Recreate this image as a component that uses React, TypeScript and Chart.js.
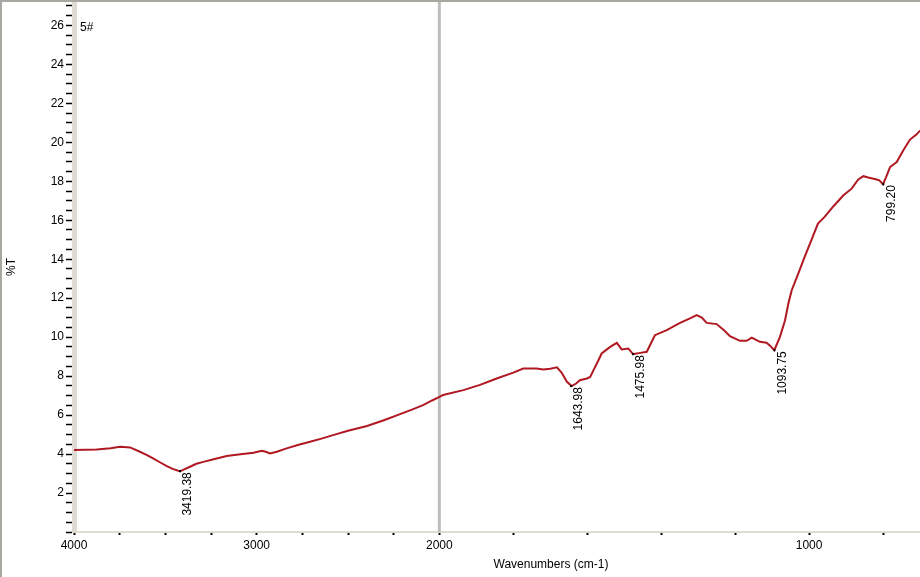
import React, { useEffect, useRef } from 'react';
import { Chart, registerables, LinearScale } from 'chart.js';

Chart.register(...registerables);

// ---- data ----
const wavenumbers = [
  4000, 3940, 3876, 3800, 3748, 3693, 3639, 3600, 3567, 3530, 3492, 3460, 3429, 3419, 3400, 3365,
  3330, 3292, 3230, 3164, 3100, 3018, 2972, 2950, 2927, 2890, 2836, 2770, 2708, 2650, 2582, 2500,
  2396, 2300, 2215, 2150, 2089, 2040, 2002, 1990, 1935, 1890, 1845, 1800, 1773, 1737, 1719, 1700,
  1682, 1669, 1655, 1642, 1630, 1620, 1601, 1592, 1583, 1570, 1561, 1538, 1520, 1507, 1489, 1476,
  1460, 1439, 1417, 1385, 1349, 1322, 1304, 1290, 1277, 1250, 1230, 1214, 1187, 1169, 1155, 1133,
  1115, 1105, 1094, 1079, 1065, 1056, 1047, 1029, 1012, 994, 976, 958, 934, 907, 885, 867,
  853, 840, 817, 810, 800, 792, 781, 763, 745, 727, 709, 700,
];
const transmittance = [
  4.21, 4.22, 4.24, 4.30, 4.37, 4.34, 4.12, 3.95, 3.78, 3.58, 3.38, 3.24, 3.14, 3.12, 3.20, 3.35,
  3.50, 3.60, 3.75, 3.90, 3.98, 4.07, 4.17, 4.12, 4.03, 4.12, 4.29, 4.48, 4.63, 4.78, 4.97, 5.20,
  5.44, 5.75, 6.05, 6.28, 6.51, 6.75, 6.92, 7.03, 7.28, 7.55, 7.88, 8.18, 8.39, 8.39, 8.34, 8.38,
  8.45, 8.17, 7.71, 7.49, 7.62, 7.79, 7.88, 7.96, 8.31, 8.80, 9.16, 9.50, 9.71, 9.37, 9.42, 9.13,
  9.18, 9.25, 10.10, 10.36, 10.73, 10.96, 11.13, 11.00, 10.73, 10.67, 10.35, 10.05, 9.81, 9.81, 9.98, 9.76,
  9.71, 9.55, 9.33, 10.00, 10.87, 11.73, 12.41, 13.27, 14.12, 14.97, 15.83, 16.17, 16.72, 17.28, 17.62, 18.09,
  18.26, 18.19, 18.09, 18.05, 17.85, 18.20, 18.73, 18.99, 19.59, 20.14, 20.41, 20.60,
];
const peakWavenumbers = [3419.38, 1643.98, 1475.98, 1093.75, 799.2];
const peakTransmittance = [3.12, 7.49, 9.13, 9.33, 17.85];
const xTickLabels = [4000, 3000, 2000, 1000];
const yTickLabels = [2, 4, 6, 8, 10, 12, 14, 16, 18, 20, 22, 24, 26];
const sampleLabel = '5#';
const xTitle = 'Wavenumbers (cm-1)';
const yTitle = '%T';

const X_MIN = 700;
const X_MAX = 4000;
const BREAK = 2000;
const EXPAND = 2.024;
const FONT = '"Liberation Sans", Arial, sans-serif';

// Linear axis with a 2x expansion below 2000 cm-1 (as in FTIR software)
class BrokenLinearScale extends LinearScale {
  static id = 'brokenLinear';
  static defaults = {};
  _dist(v: number) {
    const max = this.max;
    return v >= BREAK ? max - v : max - BREAK + (BREAK - v) * EXPAND;
  }
  getPixelForValue(value: number) {
    const total = this._dist(this.min);
    return this.left + (this._dist(value) / total) * this.width;
  }
  getValueForPixel(pixel: number) {
    const total = this._dist(this.min);
    const d = ((pixel - this.left) / this.width) * total;
    const leftW = this.max - BREAK;
    return d <= leftW ? this.max - d : BREAK - (d - leftW) / EXPAND;
  }
  buildTicks() {
    const ticks: { value: number }[] = [];
    for (let v = this.max; v > BREAK; v -= 250) ticks.push({ value: v });
    for (let v = BREAK; v >= this.min; v -= 200) ticks.push({ value: v });
    return ticks;
  }
}
Chart.register(BrokenLinearScale as any);

const decorations = {
  id: 'decorations',
  beforeDatasetsDraw(chart: any) {
    const { ctx, scales, chartArea } = chart;
    const x = scales.x.getPixelForValue(BREAK);
    ctx.save();
    ctx.strokeStyle = '#bdbdbd';
    ctx.lineWidth = 3;
    ctx.beginPath();
    ctx.moveTo(x, chartArea.top);
    ctx.lineTo(x, chartArea.bottom);
    ctx.stroke();
    ctx.restore();
  },
  afterDraw(chart: any) {
    const { ctx, scales, chartArea } = chart;
    ctx.save();
    // frame
    ctx.strokeStyle = '#a8a8a2';
    ctx.lineWidth = 2;
    ctx.beginPath();
    ctx.moveTo(1, chart.height);
    ctx.lineTo(1, 1);
    ctx.lineTo(chart.width, 1);
    ctx.stroke();

    ctx.fillStyle = '#000';
    ctx.font = `12px ${FONT}`;
    // peak labels
    peakWavenumbers.forEach((w, i) => {
      const px = scales.x.getPixelForValue(w);
      const py = scales.y.getPixelForValue(peakTransmittance[i]);
      ctx.fillRect(px - 1, py - 1, 2, 2);
      ctx.save();
      ctx.translate(px + 8, py + 1);
      ctx.rotate(-Math.PI / 2);
      ctx.textAlign = 'right';
      ctx.textBaseline = 'middle';
      ctx.fillText(w.toFixed(2), 0, 0);
      ctx.restore();
    });
    // sample label
    ctx.textAlign = 'left';
    ctx.textBaseline = 'middle';
    ctx.fillText(sampleLabel, chartArea.left + 6, 28);
    // x title
    ctx.textAlign = 'center';
    ctx.fillText(xTitle, 551, 565);
    // y title
    ctx.save();
    ctx.translate(12, 267);
    ctx.rotate(-Math.PI / 2);
    ctx.fillText(yTitle, 0, 0);
    ctx.restore();
    ctx.restore();
  },
};

export default function App() {
  const ref = useRef<HTMLCanvasElement>(null);
  useEffect(() => {
    if (!ref.current) return;
    const chart = new Chart(ref.current, {
      type: 'line',
      data: {
        datasets: [
          {
            data: wavenumbers.map((w, i) => ({ x: w, y: transmittance[i] })),
            borderColor: 'rgb(176, 24, 34)',
            borderWidth: 2,
            pointRadius: 0,
            tension: 0,
            fill: false,
          },
        ],
      },
      options: {
        animation: false,
        responsive: false,
        maintainAspectRatio: false,
        layout: { padding: { top: 2, right: 0, left: 0, bottom: 0 } },
        plugins: { legend: { display: false }, tooltip: { enabled: false } },
        scales: {
          x: {
            type: 'brokenLinear' as any,
            min: X_MIN,
            max: X_MAX,
            position: 'bottom',
            border: { color: '#dedbd2', width: 2 },
            grid: { drawOnChartArea: false, tickLength: 3, tickColor: '#000', tickWidth: 2 },
            ticks: {
              autoSkip: false,
              maxRotation: 0,
              padding: 3,
              color: '#000',
              font: { family: FONT, size: 12 },
              callback: (v: any) => (xTickLabels.includes(Number(v)) ? String(v) : ''),
            },
            afterFit: (s: any) => {
              s.height = 45;
              s.paddingLeft = 0;
              s.paddingRight = 0;
            },
          } as any,
          y: {
            min: 0,
            max: 27.2,
            border: { color: '#dedbd2', width: 5 },
            grid: { drawOnChartArea: false, tickLength: 8, tickColor: '#000', tickWidth: 1.5 },
            ticks: {
              stepSize: 0.5,
              includeBounds: false,
              autoSkip: false,
              padding: 2,
              color: '#000',
              font: { family: FONT, size: 12 },
              callback: (v: any) => (yTickLabels.includes(Number(v)) ? String(v) : ''),
            },
            afterFit: (s: any) => {
              s.width = 74;
              s.paddingTop = 0;
              s.paddingBottom = 0;
            },
          } as any,
        },
      },
      plugins: [decorations],
    });
    return () => chart.destroy();
  }, []);
  return (
    <div style={{ position: 'fixed', left: 0, top: 0, width: 920, height: 577, background: '#fff' }}>
      <canvas ref={ref} width={920} height={577} style={{ display: 'block' }} />
    </div>
  );
}
